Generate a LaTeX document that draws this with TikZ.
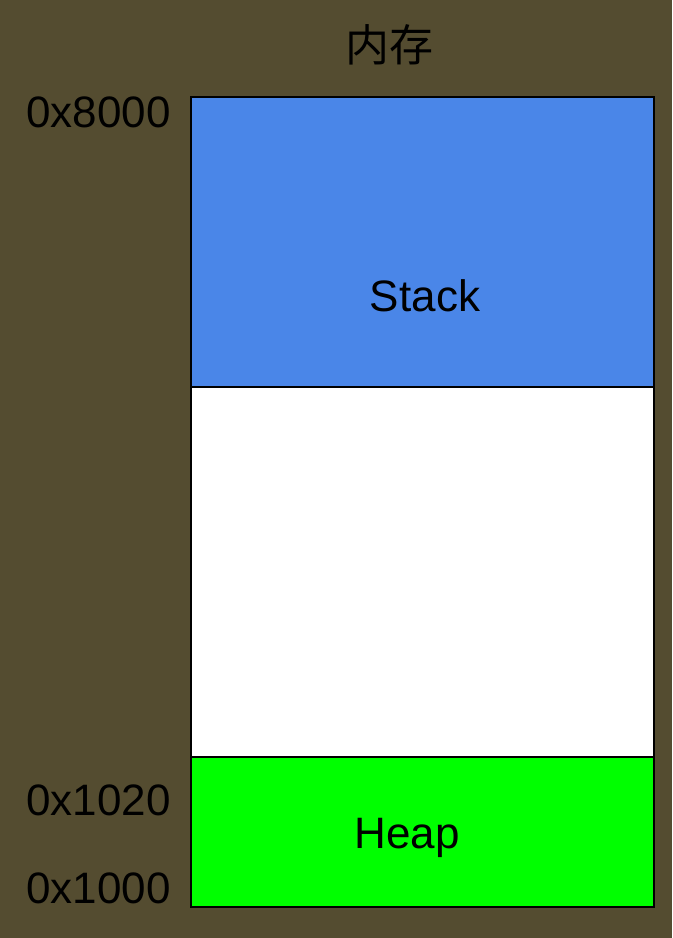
\documentclass[tikz,border=0pt]{standalone}
\usepackage{fontspec}
\setmainfont{Liberation Sans}
\newfontfamily\cjk{Noto Sans CJK SC}
\definecolor{bgolive}{HTML}{544C30}
\definecolor{stackblue}{HTML}{4A86E8}
\definecolor{heapgreen}{HTML}{00FF00}
\begin{document}
\begin{tikzpicture}[x=0.75pt,y=-0.75pt,
  seg/.style={draw=black,line width=1.5pt},
  lbl/.style={font=\fontsize{33}{36}\selectfont,text=black,inner sep=0pt},
  addr/.style={lbl,anchor=east}]
\fill[bgolive] (0,0) rectangle (672,938);
\useasboundingbox (0,0) rectangle (672,938);
\filldraw[seg,fill=stackblue] (191,97) rectangle (654,387);
\filldraw[seg,fill=white] (191,387) rectangle (654,757);
\filldraw[seg,fill=heapgreen] (191,757) rectangle (654,907);
\node[lbl] (title) at (389,45) {\cjk 内存};
\node[lbl] (stack) at (425,296) {Stack};
\node[lbl] (heap) at (407,838) {Heap};
\node[addr] (a8000) at (171,112) {0x8000};
\node[addr] (a1020) at (171,800) {0x1020};
\node[addr] (a1000) at (171,888) {0x1000};
\end{tikzpicture}
\end{document}
